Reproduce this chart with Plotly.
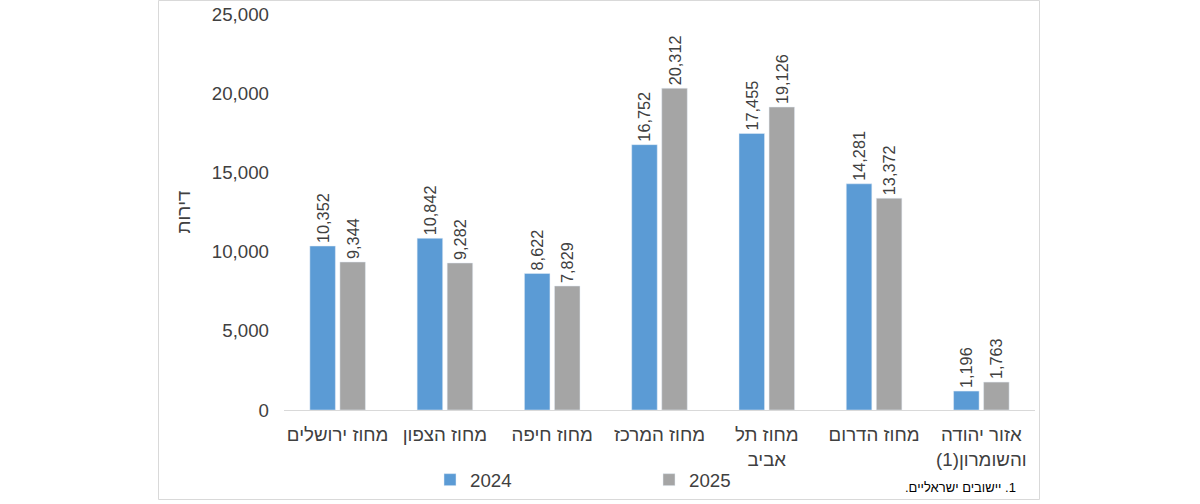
import plotly.graph_objects as go

categories = ["מחוז ירושלים", "מחוז הצפון", "מחוז חיפה", "מחוז המרכז",
              "מחוז תל<br>אביב", "מחוז הדרום", "אזור יהודה<br>(1)והשומרון"]
series_names = ["2024", "2025"]
values_2024 = [10352, 10842, 8622, 16752, 17455, 14281, 1196]
values_2025 = [9344, 9282, 7829, 20312, 19126, 13372, 1763]
y_ticks = [0, 5000, 10000, 15000, 20000, 25000]
y_title = "דירות"
footnote = "\u202b1. יישובים ישראליים.\u202c"

colors = ["#5B9BD5", "#A5A5A5"]
font_family = "Liberation Sans, Arial, sans-serif"
txt_color = "#404040"

fig = go.Figure()
for name, vals, col in zip(series_names, [values_2024, values_2025], colors):
    fig.add_trace(go.Bar(
        x=categories, y=vals, name=name, marker_color=col,
        text=[f"{v:,}" for v in vals], textposition="outside",
        textangle=-90, cliponaxis=False, constraintext="none",
        textfont=dict(size=16.3, color=txt_color, family=font_family),
    ))

W, H = 1200, 504
# page coordinates of plot area
PL, PR, PT, PB = 284, 1035, 14, 410
L, R, T, B = PL, W - PR, PT, H - PB
pw, ph = W - L - R, H - T - B

def px_x(x):
    return (x - L) / pw

def px_y(y):
    return (H - B - y) / ph

fig.update_layout(
    width=W, height=H,
    margin=dict(l=L, r=R, t=T, b=B, autoexpand=False),
    paper_bgcolor="white", plot_bgcolor="white",
    barmode="group", bargap=0.44, bargroupgap=0.15,
    font=dict(family=font_family, size=18.7, color=txt_color),
    showlegend=True,
    legend=dict(orientation="h", x=px_x(430), y=px_y(480), xanchor="left",
                yanchor="middle", entrywidth=174, entrywidthmode="pixels",
                font=dict(size=18.7, color=txt_color), itemwidth=30,
                bgcolor="rgba(0,0,0,0)"),
    xaxis=dict(showline=True, linecolor="#D9D9D9", linewidth=1,
               ticks="", showgrid=False, ticklabelstandoff=8,
               tickfont=dict(size=18.7, color=txt_color)),
    yaxis=dict(range=[0, 25000], tickvals=y_ticks, tickformat=",",
               showgrid=False, showline=False, zeroline=False, ticks="",
               ticklabelstandoff=14,
               tickfont=dict(size=18.7, color=txt_color),
               title=dict(text=y_title, standoff=16, font=dict(size=18.7, color=txt_color))),
    shapes=[dict(type="rect", xref="paper", yref="paper",
                 x0=px_x(158.5), x1=px_x(1039.5), y0=px_y(499.5), y1=px_y(0.5),
                 line=dict(color="#D9D9D9", width=1), fillcolor="rgba(0,0,0,0)",
                 layer="below")],
    annotations=[dict(text=footnote, xref="paper", yref="paper",
                      x=px_x(1018), y=px_y(487), xanchor="right", yanchor="middle",
                      showarrow=False, font=dict(size=13, color="#000000"))],
)

fig.write_html("out.html", config={"displayModeBar": False},
               post_script="document.body.style.margin='0';document.body.style.overflow='hidden';")
